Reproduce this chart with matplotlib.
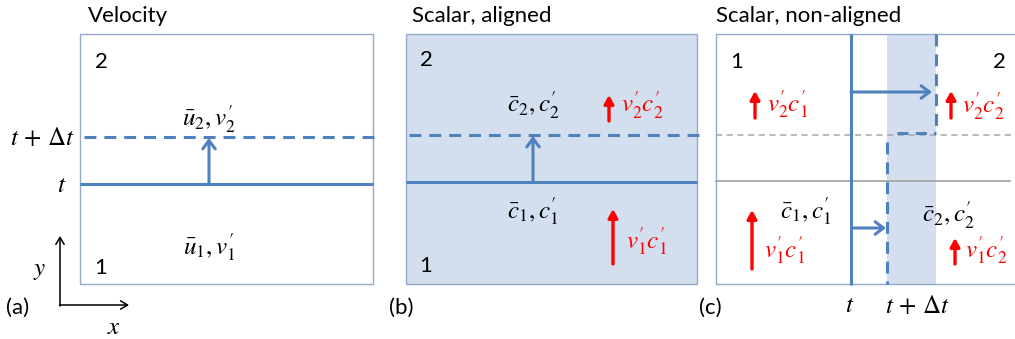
import matplotlib
matplotlib.use('Agg')
import matplotlib.pyplot as plt
from matplotlib.patches import Rectangle

plt.rcParams['mathtext.fontset'] = 'stix'
plt.rcParams['font.family'] = ['Lato', 'DejaVu Sans']

# ---- diagram content ----
panel_titles = ["Velocity", "Scalar, aligned", "Scalar, non-aligned"]
panel_tags = ["(a)", "(b)", "(c)"]
region_labels = ["1", "2"]
vel_labels = [r"$\bar{u}_2, v^{\prime}_2$", r"$\bar{u}_1, v^{\prime}_1$"]
scal_labels = [r"$\bar{c}_2, c^{\prime}_2$", r"$\bar{c}_1, c^{\prime}_1$"]
flux_aligned = [r"$v^{\prime}_2c^{\prime}_2$", r"$v^{\prime}_1c^{\prime}_1$"]
flux_nonaligned = [r"$v^{\prime}_2c^{\prime}_1$", r"$v^{\prime}_2c^{\prime}_2$",
                   r"$v^{\prime}_1c^{\prime}_1$", r"$v^{\prime}_1c^{\prime}_2$"]
time_labels = [r"$t$", r"$t\,+\,\Delta t$"]
axis_labels = [r"$x$", r"$y$"]

BLUE = '#4F81BD'
FILL = '#D3DFEE'
RED = '#FF0000'
GREY = '#A6A6A6'
EDGE = '#93A9C7'

W, H = 1015, 339
fig = plt.figure(figsize=(10.15, 3.39), dpi=100)
ax = fig.add_axes([0, 0, 1, 1])
ax.set_xlim(0, W)
ax.set_ylim(H, 0)
ax.axis('off')

TOP, BOT = 34, 284
title_fs = 16
math_fs = 18
lw = 2.2
dash = (0, (3.9, 2.6))


def blue_arrow(x0, y0, x1, y1):
    ax.annotate('', xy=(x1, y1), xytext=(x0, y0),
                arrowprops=dict(arrowstyle='->,head_length=0.6,head_width=0.45',
                                color=BLUE, lw=lw, shrinkA=0, shrinkB=0))


def red_arrow(x, y0, y1):
    ax.annotate('', xy=(x, y1), xytext=(x, y0),
                arrowprops=dict(arrowstyle='-|>,head_length=0.5,head_width=0.28',
                                color=RED, lw=2.4, shrinkA=0, shrinkB=0))


# ---------- panel (a) ----------
ax.add_patch(Rectangle((80, TOP), 293, BOT - TOP, fill=False, ec=EDGE, lw=1))
ax.plot([80, 373], [184, 184], color=BLUE, lw=lw, solid_capstyle='butt')
ax.plot([84, 376], [137, 137], color=BLUE, lw=lw, linestyle=dash)
blue_arrow(209, 184, 209, 138)
ax.text(88, 16, panel_titles[0], fontsize=title_fs, ha='left', va='center')
ax.text(101, 62, region_labels[1], fontsize=title_fs, ha='center', va='center')
ax.text(101, 268, region_labels[0], fontsize=title_fs, ha='center', va='center')
ax.text(209, 119, vel_labels[0], fontsize=math_fs, ha='center', va='center')
ax.text(209, 247, vel_labels[1], fontsize=math_fs, ha='center', va='center')
ax.text(75, 137, time_labels[1], fontsize=math_fs, ha='right', va='center')
ax.text(62, 184, time_labels[0], fontsize=math_fs, ha='center', va='center')
# coordinate axes
ax.annotate('', xy=(60, 236), xytext=(60, 306),
            arrowprops=dict(arrowstyle='->,head_length=0.5,head_width=0.3', color='black', lw=1.1,
                            shrinkA=0, shrinkB=0))
ax.annotate('', xy=(129, 305), xytext=(59.5, 305),
            arrowprops=dict(arrowstyle='->,head_length=0.5,head_width=0.3', color='black', lw=1.1,
                            shrinkA=0, shrinkB=0))
ax.text(40, 270, axis_labels[1], fontsize=math_fs, ha='center', va='center')
ax.text(114, 327, axis_labels[0], fontsize=math_fs, ha='center', va='center')
ax.text(18, 308, panel_tags[0], fontsize=title_fs, ha='center', va='center')

# ---------- panel (b) ----------
ax.add_patch(Rectangle((406, TOP), 291, BOT - TOP, fc=FILL, ec=EDGE, lw=1))
ax.plot([406, 697], [182, 182], color=BLUE, lw=lw, solid_capstyle='butt')
ax.plot([409, 700], [135, 135], color=BLUE, lw=lw, linestyle=dash)
blue_arrow(533, 182, 533, 136)
ax.text(412, 16, panel_titles[1], fontsize=title_fs, ha='left', va='center')
ax.text(426, 60, region_labels[1], fontsize=title_fs, ha='center', va='center')
ax.text(426, 266, region_labels[0], fontsize=title_fs, ha='center', va='center')
ax.text(533, 105, scal_labels[0], fontsize=math_fs, ha='center', va='center')
ax.text(533, 211, scal_labels[1], fontsize=math_fs, ha='center', va='center')
red_arrow(609, 121, 95)
ax.text(621, 105, flux_aligned[0], fontsize=math_fs, color=RED, ha='left', va='center')
red_arrow(613, 264, 209)
ax.text(626, 241, flux_aligned[1], fontsize=math_fs, color=RED, ha='left', va='center')
ax.text(401, 308, panel_tags[1], fontsize=title_fs, ha='center', va='center')

# ---------- panel (c) ----------
ax.add_patch(Rectangle((887, TOP), 49, BOT - TOP, fc=FILL, ec='none'))
ax.plot([1015, 716, 716, 1015], [TOP, TOP, BOT, BOT], color=EDGE, lw=1)
ax.plot([716, 1015], [135, 135], color=GREY, lw=1.1, linestyle=(0, (4, 3)))
ax.plot([716, 1010], [181, 181], color=GREY, lw=1.3)
ax.plot([851, 851], [TOP, BOT + 1], color=BLUE, lw=lw, solid_capstyle='butt')
ax.plot([936, 936], [TOP, 127], color=BLUE, lw=lw, linestyle=dash)
ax.plot([887, 887], [142, BOT], color=BLUE, lw=lw, linestyle=dash)
ax.plot([897, 936], [133, 133], color=BLUE, lw=lw, linestyle=(0, (3.6, 2.4)))
blue_arrow(851, 92, 932, 92)
blue_arrow(854, 228, 886, 228)
ax.text(716, 16, panel_titles[2], fontsize=title_fs, ha='left', va='center')
ax.text(737, 62, region_labels[0], fontsize=title_fs, ha='center', va='center')
ax.text(999, 62, region_labels[1], fontsize=title_fs, ha='center', va='center')
ax.text(806, 211, scal_labels[1], fontsize=math_fs, ha='center', va='center')
ax.text(948, 215, scal_labels[0], fontsize=math_fs, ha='center', va='center')
red_arrow(755, 118, 91)
ax.text(767, 104, flux_nonaligned[0], fontsize=math_fs, color=RED, ha='left', va='center')
red_arrow(951, 118, 91)
ax.text(962, 106, flux_nonaligned[1], fontsize=math_fs, color=RED, ha='left', va='center')
red_arrow(752, 269, 210)
ax.text(764, 250, flux_nonaligned[2], fontsize=math_fs, color=RED, ha='left', va='center')
red_arrow(955, 264, 238)
ax.text(965, 250, flux_nonaligned[3], fontsize=math_fs, color=RED, ha='left', va='center')
ax.text(850, 305, time_labels[0], fontsize=math_fs, ha='center', va='center')
ax.text(917, 305, time_labels[1], fontsize=math_fs, ha='center', va='center')
ax.text(710, 308, panel_tags[2], fontsize=title_fs, ha='center', va='center')

fig.savefig('out.png', dpi=100)
